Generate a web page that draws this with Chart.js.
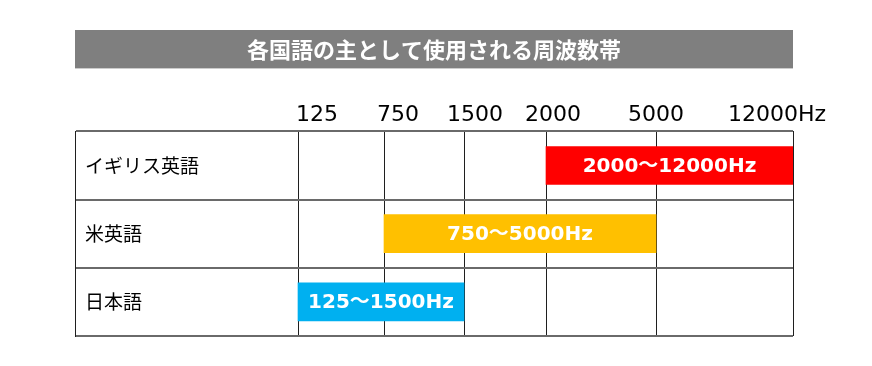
<!DOCTYPE html>
<html lang="ja">
<head>
<meta charset="utf-8">
<title>各国語の主として使用される周波数帯</title>
<script src="https://cdn.jsdelivr.net/npm/chart.js@4/dist/chart.umd.min.js"></script>
<style>
  html, body { margin: 0; padding: 0; background: #fff; }
  #wrap { width: 872px; height: 366px; position: relative; }
</style>
</head>
<body>
<div id="wrap"><canvas id="chart"></canvas></div>
<script>
const TITLE = '各国語の主として使用される周波数帯';
const languages = ['イギリス英語', '米英語', '日本語'];
const freqTicks = [125, 750, 1500, 2000, 5000, 12000];
const tickLabels = ['125', '750', '1500', '2000', '5000', '12000Hz'];
const bandLow = [2000, 750, 125];
const bandHigh = [12000, 5000, 1500];
const bandLabels = ['2000～12000Hz', '750～5000Hz', '125～1500Hz'];
const bandColors = ['#ff0000', '#ffc000', '#00b0f0'];

// layout only: table column widths (label column first) and header nudges
const colWidths = [223, 86, 80, 82, 110, 137];
const labelShift = [19, 14, 11, 7, 0, -16];

Chart.defaults.font.family = "'DejaVu Sans', 'Noto Sans CJK JP', sans-serif";

// value axis where each frequency sits on its own table column line
class ColumnScale extends Chart.LinearScale {
  buildTicks() {
    return freqTicks.map(v => ({ value: v }));
  }
  getPixelForValue(value) {
    const total = colWidths.reduce((a, b) => a + b, 0);
    let edge = colWidths[0];
    if (value <= freqTicks[0]) return this.getPixelForDecimal(edge / total);
    for (let i = 1; i < freqTicks.length; i++) {
      if (value <= freqTicks[i]) {
        const t = (value - freqTicks[i - 1]) / (freqTicks[i] - freqTicks[i - 1]);
        return this.getPixelForDecimal((edge + t * colWidths[i]) / total);
      }
      edge += colWidths[i];
    }
    return this.getPixelForDecimal(1);
  }
  _computeLabelItems(area) {
    const items = super._computeLabelItems(area);
    items.forEach((it, i) => {
      const tr = it.options.translation;
      it.options.translation = [tr[0] + (labelShift[i] || 0), tr[1]];
    });
    return items;
  }
}
ColumnScale.id = 'column';
ColumnScale.defaults = {};
Chart.register(ColumnScale);

const titleBand = {
  id: 'titleBand',
  beforeDraw(chart) {
    const t = chart.titleBlock;
    if (!t) return;
    const ctx = chart.ctx;
    ctx.save();
    ctx.fillStyle = '#7f7f7f';
    ctx.fillRect(t.left, t.top, t.width, t.height);
    ctx.restore();
  }
};

const bandText = {
  id: 'bandText',
  afterDatasetsDraw(chart) {
    const ctx = chart.ctx;
    const meta = chart.getDatasetMeta(0);
    ctx.save();
    ctx.font = "bold 20px 'DejaVu Sans', 'Noto Sans CJK JP', sans-serif";
    ctx.fillStyle = '#fff';
    ctx.textAlign = 'center';
    ctx.textBaseline = 'middle';
    meta.data.forEach((bar, i) => {
      const p = bar.getCenterPoint();
      ctx.fillText(bandLabels[i], p.x, p.y + 1);
    });
    ctx.restore();
  }
};

new Chart(document.getElementById('chart'), {
  type: 'bar',
  data: {
    labels: languages,
    datasets: [{
      data: bandLow.map((lo, i) => [lo, bandHigh[i]]),
      backgroundColor: bandColors,
      borderWidth: 0,
      barThickness: 38
    }]
  },
  options: {
    indexAxis: 'y',
    responsive: true,
    maintainAspectRatio: false,
    animation: false,
    events: [],
    layout: { padding: { top: 30, left: 75, right: 79, bottom: 30 } },
    plugins: {
      legend: { display: false },
      tooltip: { enabled: false },
      title: {
        display: true,
        text: TITLE,
        color: '#fff',
        font: { family: "'Noto Sans CJK JP'", size: 22, weight: 'bold', lineHeight: 1.2 },
        padding: { top: 6, bottom: 6 }
      }
    },
    scales: {
      x: {
        type: 'column',
        position: 'top',
        afterFit: s => { s.height = 63; },
        grid: { color: '#1f1f1f', lineWidth: 1, drawTicks: false },
        border: { display: false },
        ticks: {
          autoSkip: false,
          maxRotation: 0,
          padding: 3,
          color: '#000',
          font: { size: 22 },
          callback: (v, i) => tickLabels[i]
        }
      },
      y: {
        type: 'category',
        afterFit: s => { s.width = 0; },
        grid: { color: '#6a6a6a', lineWidth: 2, drawTicks: false },
        border: { display: true, color: '#1f1f1f', width: 1 },
        ticks: {
          mirror: true,
          padding: 10,
          color: '#000',
          font: { family: "'Noto Sans CJK JP'", size: 19 }
        }
      }
    }
  },
  plugins: [titleBand, bandText]
});
</script>
</body>
</html>
